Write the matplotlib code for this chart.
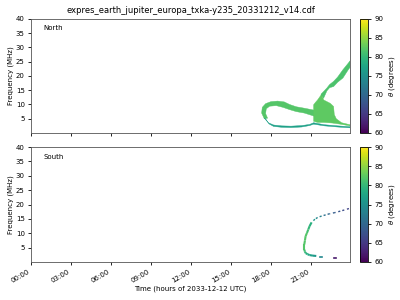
import numpy as np
import matplotlib
matplotlib.use("Agg")
import matplotlib.pyplot as plt
from matplotlib.collections import PolyCollection, LineCollection
from matplotlib.ticker import FuncFormatter

title = "expres_earth_jupiter_europa_txka-y235_20331212_v14.cdf"
hour_ticks = [0, 3, 6, 9, 12, 15, 18, 21]
freq_ticks = [5, 10, 15, 20, 25, 30, 35, 40]
cbar_ticks = [60, 65, 70, 75, 80, 85, 90]

# North emission, outlines (hours, MHz) and theta (deg)
loop_hours = [17.3, 17.35, 17.6, 18.0, 18.5, 19.0, 19.4, 19.9, 20.5, 21.25,
              21.25, 20.5, 19.9, 19.4, 18.9, 18.4, 17.9, 17.65, 17.6, 17.75, 17.5]
loop_mhz = [7.0, 9.0, 10.3, 11.0, 11.2, 10.9, 10.0, 9.2, 8.7, 8.0,
            5.9, 7.0, 7.5, 8.2, 9.0, 9.6, 9.4, 8.5, 6.8, 5.2, 5.0]
loop_theta = 82

blob_hours = [21.2, 21.35, 21.5, 21.65, 21.8, 21.95, 22.2, 22.45, 22.7, 22.75, 22.9, 23.3, 23.93,
              23.93, 23.2, 22.6, 22.0, 21.5, 21.2]
blob_mhz = [9.9, 10.8, 11.6, 12.6, 13.6, 11.6, 11.0, 10.4, 9.3, 6.5, 5.0, 3.6, 2.9,
            2.5, 3.1, 3.5, 3.7, 3.7, 4.1]
blob_theta = 82.5

fil_hours = [21.75, 22.0, 22.2, 22.4, 22.7, 23.0, 23.4, 23.8, 23.93,
             23.93, 23.8, 23.4, 23.0, 22.7, 22.4, 22.2, 21.95]
fil_mhz = [13.6, 14.8, 15.8, 17.0, 18.1, 19.6, 22.2, 24.5, 25.3,
           23.0, 22.2, 19.3, 17.8, 16.3, 15.9, 14.8, 12.2]
fil_theta = 81.5

low_hours = [17.5, 17.8, 18.2, 18.8, 19.5, 20.3, 20.9, 21.2, 22.0, 23.0, 23.93,
             23.93, 23.0, 22.0, 21.2, 20.9, 20.3, 19.5, 18.8, 18.2, 17.85, 17.6]
low_mhz = [5.2, 3.6, 2.8, 2.5, 2.4, 2.6, 3.0, 3.6, 2.9, 2.5, 2.2,
           1.8, 2.1, 2.5, 3.1, 2.6, 2.1, 1.9, 2.0, 2.3, 3.2, 5.0]
low_theta = 77

# South emission trace
south_hours = [23.85, 23.5, 23.2, 22.8, 22.4, 22.1, 21.8, 21.5, 21.3, 21.05, 20.9, 20.8,
               20.7, 20.6, 20.55, 20.5, 20.5, 20.55, 20.6, 20.75, 20.9, 21.15, 21.4]
south_mhz = [18.6, 18.1, 17.7, 17.2, 16.8, 16.4, 16.0, 15.5, 14.9, 13.8, 12.5, 11.3,
             10.1, 9.0, 7.5, 6.1, 4.3, 3.6, 3.1, 2.7, 2.4, 2.2, 2.1]
south_theta = [66, 67, 68, 69, 70, 71, 73, 74, 76, 79, 80, 81,
               82, 82, 82, 82, 81, 80, 79, 78, 77, 76, 75]
dash_hours = [[21.65, 21.8], [22.7, 22.9]]
dash_mhz = [[1.9, 1.9], [1.4, 1.4]]
dash_theta = [74, 62]

cmap = plt.get_cmap("viridis")
vmin, vmax = 60, 90
fs = 5

fig = plt.figure(figsize=(4, 3), dpi=100)
ax1 = fig.add_axes([0.0775, 0.5567, 0.7975, 0.38])
ax2 = fig.add_axes([0.0775, 0.1267, 0.7975, 0.383])
cax1 = fig.add_axes([0.9, 0.5567, 0.02, 0.38])
cax2 = fig.add_axes([0.9, 0.1267, 0.02, 0.383])

polys = [np.column_stack([loop_hours, loop_mhz]),
         np.column_stack([low_hours, low_mhz]),
         np.column_stack([blob_hours, blob_mhz]),
         np.column_stack([fil_hours, fil_mhz])]
pc = PolyCollection(polys, cmap=cmap, linewidths=0.3)
pc.set_array(np.array([loop_theta, low_theta, blob_theta, fil_theta]))
pc.set_clim(vmin, vmax)
pc.set_edgecolor("face")
ax1.add_collection(pc)

pts = np.column_stack([south_hours, south_mhz])
segs = [pts[i:i + 2] for i in range(len(pts) - 1)]
styles = [(0, (1.5, 2)) if south_hours[i] > 21.2 else "solid" for i in range(len(segs))]
widths = [1.0 if south_hours[i] > 21.2 else 1.5 for i in range(len(segs))]
lc = LineCollection(segs, cmap=cmap, linewidths=widths, linestyles=styles)
lc.set_array(np.array(south_theta[:-1], dtype=float))
lc.set_clim(vmin, vmax)
ax2.add_collection(lc)
for h, m, t in zip(dash_hours, dash_mhz, dash_theta):
    ax2.plot(h, m, color=cmap((t - vmin) / (vmax - vmin)), lw=1.2)

fmt = FuncFormatter(lambda v, p: "%02d:%02d" % (int(v), round((v % 1) * 60)))
for ax, name in [(ax1, "North"), (ax2, "South")]:
    ax.set_xlim(0, 23.93)
    ax.set_ylim(0, 40)
    ax.set_xticks(hour_ticks)
    ax.set_yticks(freq_ticks)
    ax.tick_params(labelsize=fs, length=2.5, width=0.6, pad=2)
    ax.set_ylabel("Frequency (MHz)", fontsize=fs, labelpad=1.5)
    ax.text(0.04, 0.9, name, transform=ax.transAxes, fontsize=fs)
    for s in ax.spines.values():
        s.set_linewidth(0.6)
        s.set_color("#555555")
ax1.set_xticklabels([])
ax2.xaxis.set_major_formatter(fmt)
plt.setp(ax2.get_xticklabels(), rotation=30, ha="right")
ax2.set_xlabel("Time (hours of 2033-12-12 UTC)", fontsize=fs, labelpad=1)
ax1.set_title(title, fontsize=6, pad=4)

for cax, m in [(cax1, pc), (cax2, lc)]:
    cb = fig.colorbar(m, cax=cax, ticks=cbar_ticks)
    cb.ax.tick_params(labelsize=fs, length=2.5, width=0.6, pad=2)
    cb.outline.set_linewidth(0.6)
    cb.set_label(r"$\theta$ (degrees)", fontsize=fs, labelpad=3)

fig.savefig("out.png", dpi=100)
